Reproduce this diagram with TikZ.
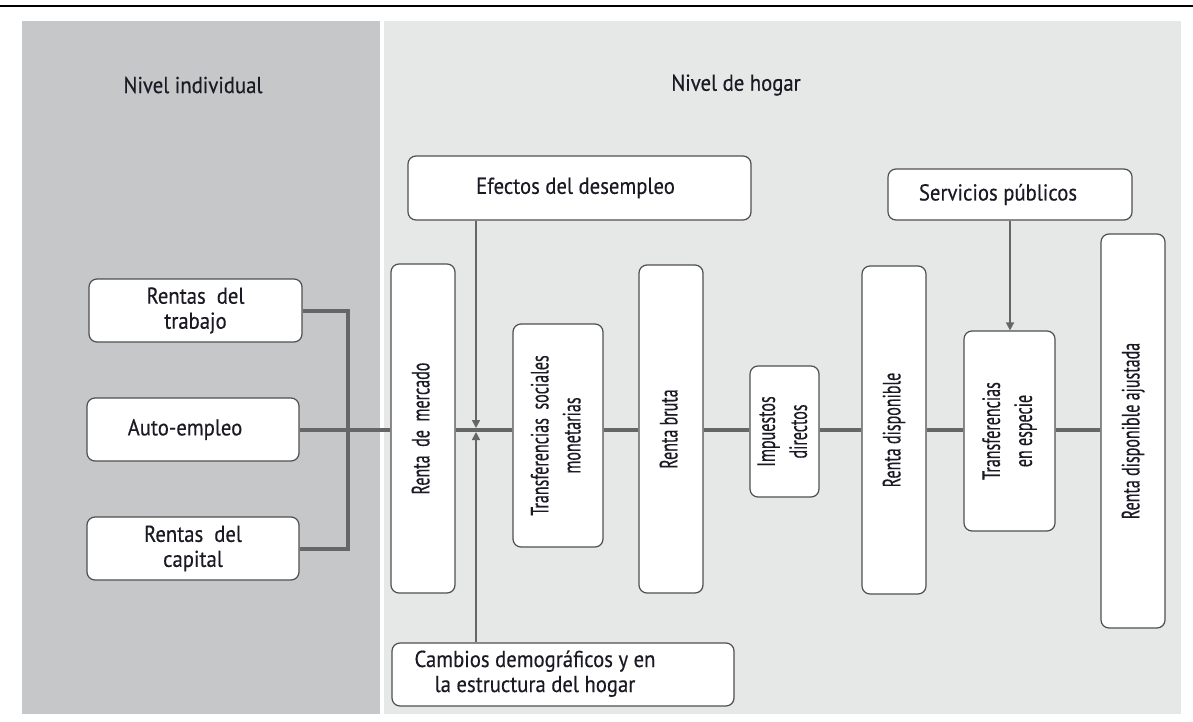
\documentclass[tikz,border=0pt]{standalone}
\usepackage{fontspec}
\setmainfont{PT Sans}[FakeStretch=0.9, FakeBold=0.35]
\newfontfamily\rotfont{PT Sans}[FakeStretch=0.64, FakeBold=0.35]
\usetikzlibrary{arrows.meta}
\definecolor{leftbg}{HTML}{C6C7C9}
\definecolor{rightbg}{HTML}{E6E7E7}
\definecolor{boxline}{HTML}{4F4F4F}
\definecolor{connc}{HTML}{666666}
\definecolor{txt}{HTML}{1A1A24}
\tikzset{
  box/.style={draw=boxline, line width=1.2pt, fill=white, rounded corners=8pt, inner sep=0pt, align=center, text=txt, font=\fontsize{23}{25}\selectfont},
  hdr/.style={text=txt, font=\fontsize{23}{25}\selectfont, inner sep=0pt},
  thickconn/.style={draw=connc, line width=4pt},
  conn/.style={draw=connc, line width=3.4pt},
  arr/.style={draw=connc, line width=1.6pt, -{Triangle[length=8pt,width=8pt]}}
}
\newcommand{\rtext}[1]{\rotatebox{90}{\rotfont\fontsize{25}{32}\selectfont\begin{tabular}{@{}c@{}}#1\end{tabular}}}
\begin{document}
\begin{tikzpicture}[x=1pt,y=-1pt]
\useasboundingbox (0,0) rectangle (1193,722);
\fill[white] (0,0) rectangle (1193,722);
\draw[line width=1.5pt, black] (0,6) -- (1193,6);
\fill[leftbg] (22,21) rectangle (380,714);
\fill[rightbg] (384,21) rectangle (1181,714);

\node[hdr] (hind) at (193,85) {Nivel individual};
\node[hdr] (hhog) at (736,85) {Nivel de hogar};

% boxes
\node[box, minimum width=343pt, minimum height=64pt] (efe) at (579.5,188) {Efectos del desempleo\hspace*{8pt}};
\node[box, minimum width=244pt, minimum height=51pt] (serv) at (1010,194.5) {Servicios públicos\hspace*{24pt}};
\node[box, minimum width=213pt, minimum height=63pt] (rt) at (195.5,310.5) {Rentas\ \ del\\trabajo};
\node[box, minimum width=212pt, minimum height=63pt] (ae) at (193,429.5) {Auto-empleo\hspace*{16pt}};
\node[box, minimum width=212pt, minimum height=63pt] (rc) at (193,548.5) {Rentas\ \ del\\capital};

\node[box, minimum width=64pt, minimum height=329pt] (rm) at (423,428.5) {\rtext{Renta\ \ de\ \ mercado}};
\node[box, minimum width=90pt, minimum height=223pt] (tsm) at (558,435.5) {\rtext{Transferencias\ \ sociales\\monetarias}};
\node[box, minimum width=64pt, minimum height=328pt] (rb) at (671,429) {\rtext{Renta bruta}};
\node[box, minimum width=69pt, minimum height=131pt] (id) at (784.5,431.5) {\rtext{Impuestos\\directos}};
\node[box, minimum width=64pt, minimum height=328pt] (rd) at (894,430) {\rtext{Renta disponible}};
\node[box, minimum width=91pt, minimum height=200pt] (te) at (1009.5,431) {\rtext{Transferencias\\en especie}};
\node[box, minimum width=64pt, minimum height=394pt] (rda) at (1133,431) {\rtext{Renta disponible ajustada}};
\node[box, minimum width=342pt, minimum height=63pt] (cam) at (563,674.5) {\begin{tabular}{@{}c@{}}Cambios demográficos y en\\la estructura del hogar\end{tabular}\hspace*{56pt}};

% helper coordinates
\coordinate (lineY) at (0,430);
\coordinate (bus) at (348,430);
\coordinate (atop) at (476,428);
\coordinate (abot) at (476,432);

% left connectors
\draw[thickconn, line join=miter] (rt.east) -| (bus) |- (rc.east);
\draw[thickconn] (ae.east) -- (ae.east -| rm.west);

% main chain
\draw[conn] (rm.east |- lineY) -- (tsm.west |- lineY);
\draw[conn] (tsm.east |- lineY) -- (rb.west |- lineY);
\draw[conn] (rb.east |- lineY) -- (id.west |- lineY);
\draw[conn] (id.east |- lineY) -- (rd.west |- lineY);
\draw[conn] (rd.east |- lineY) -- (te.west |- lineY);
\draw[conn] (te.east |- lineY) -- (rda.west |- lineY);

% arrows
\draw[arr] (efe.south -| atop) -- (atop);
\draw[arr] (cam.north -| abot) -- (abot);
\draw[arr] (serv.south) -- (serv.south |- te.north);
\end{tikzpicture}
\end{document}
